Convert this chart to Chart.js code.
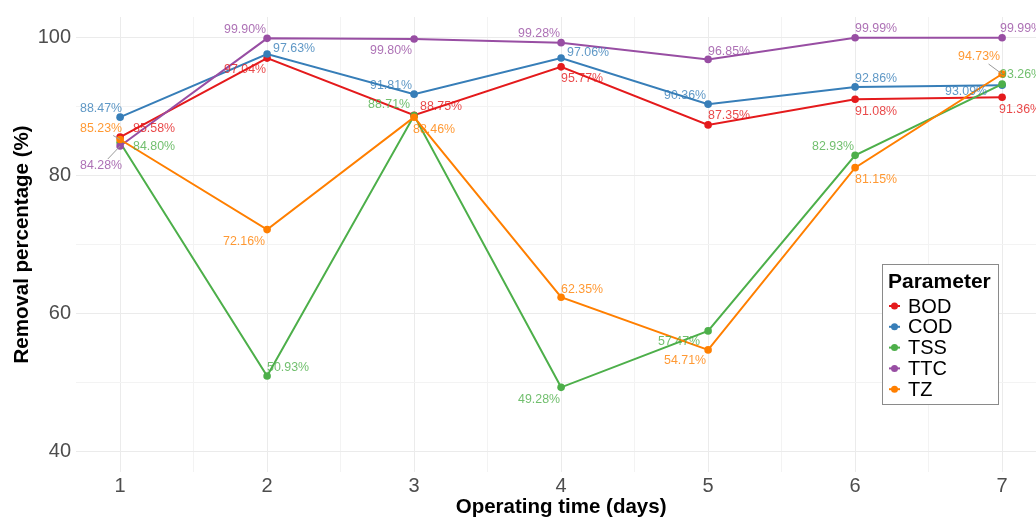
<!DOCTYPE html>
<html>
<head>
<meta charset="utf-8">
<title>Removal percentage</title>
<script src="https://cdn.jsdelivr.net/npm/chart.js@4.4.1/dist/chart.umd.min.js"></script>
<style>
  html, body { margin: 0; padding: 0; background: #fff; overflow: hidden; }
  #wrap { width: 1050px; height: 520px; position: relative; }
</style>
</head>
<body>
<div id="wrap"><canvas id="myChart"></canvas></div>
<script>
// operating time (days)
const days = [1, 2, 3, 4, 5, 6, 7];

// removal percentage (%) per parameter
const bod = [85.58, 97.04, 88.75, 95.77, 87.35, 91.08, 91.36];
const cod = [88.47, 97.63, 91.81, 97.06, 90.36, 92.86, 93.09];
const tss = [84.80, 50.93, 88.71, 49.28, 57.47, 82.93, 93.26];
const ttc = [84.28, 99.90, 99.80, 99.28, 96.85, 99.99, 99.99];
const tz  = [85.23, 72.16, 88.46, 62.35, 54.71, 81.15, 94.73];

const yTicks = [40, 60, 80, 100];

// where the value labels sit, in pixels from their point (dx, dy, draw a leader line?)
const bodLabelPos = [[34, -9], [-22, 11], [27, -9], [21, 12], [21, -9], [21, 12], [18, 12]];
const codLabelPos = [[-19, -9], [27, -5], [-23, -9], [27, -5], [-23, -9], [21, -8], [-36, 6]];
const tssLabelPos = [[34, 4], [21, -8], [-25, -11], [-22, 12], [-29, 11], [-22, -9], [19, -10]];
const ttcLabelPos = [[-19, 20, true], [-22, -9], [-23, 12], [-22, -9], [21, -8], [21, -9], [19, -9]];
const tzLabelPos  = [[-19, -11, true], [-23, 12], [20, 12], [21, -8], [-23, 11], [21, 12], [-23, -17, true]];

const FONT = "'Liberation Sans', Arial, sans-serif";

const params = [
  { name: 'BOD', data: bod, color: '#E41A1C', pos: bodLabelPos },
  { name: 'COD', data: cod, color: '#377EB8', pos: codLabelPos },
  { name: 'TSS', data: tss, color: '#4DAF4A', pos: tssLabelPos },
  { name: 'TTC', data: ttc, color: '#984EA3', pos: ttcLabelPos },
  { name: 'TZ',  data: tz,  color: '#FF7F00', pos: tzLabelPos }
];

function fade(hex, a) {
  const n = parseInt(hex.slice(1), 16);
  return 'rgba(' + (n >> 16) + ',' + ((n >> 8) & 255) + ',' + (n & 255) + ',' + a + ')';
}

// text labels next to each point (like ggrepel)
const valueLabels = {
  id: 'valueLabels',
  afterDatasetsDraw(chart) {
    const ctx = chart.ctx;
    ctx.save();
    ctx.font = '12.4px ' + FONT;
    ctx.textAlign = 'center';
    ctx.textBaseline = 'middle';
    params.forEach((p, i) => {
      const meta = chart.getDatasetMeta(i);
      meta.data.forEach((pt, j) => {
        const [dx, dy, seg] = p.pos[j];
        const text = p.data[j].toFixed(2) + '%';
        const cx = pt.x + dx, cy = pt.y + dy;
        if (seg) {
          const hw = ctx.measureText(text).width / 2 + 1, hh = 7;
          const vx = pt.x - cx, vy = pt.y - cy;
          const t = Math.min(vx ? hw / Math.abs(vx) : 1e9, vy ? hh / Math.abs(vy) : 1e9);
          ctx.strokeStyle = '#9a9a9a';
          ctx.lineWidth = 1;
          ctx.beginPath();
          ctx.moveTo(cx + vx * t, cy + vy * t);
          ctx.lineTo(pt.x, pt.y);
          ctx.stroke();
        }
        ctx.fillStyle = fade(p.color, 0.8);
        ctx.fillText(text, cx, cy);
      });
    });
    ctx.restore();
  }
};

// legend box inside the panel
const legendBox = {
  id: 'legendBox',
  afterDraw(chart) {
    const ctx = chart.ctx;
    const x = 882, y = 264, w = 116, h = 140;
    ctx.save();
    ctx.fillStyle = '#fff';
    ctx.fillRect(x, y, w, h);
    ctx.strokeStyle = '#8a8a8a';
    ctx.lineWidth = 1;
    ctx.strokeRect(x + 0.5, y + 0.5, w, h);
    ctx.fillStyle = '#000';
    ctx.textBaseline = 'middle';
    ctx.textAlign = 'left';
    ctx.font = 'bold 21px ' + FONT;
    ctx.fillText('Parameter', x + 6, y + 18);
    ctx.font = '20px ' + FONT;
    params.forEach((p, i) => {
      const ly = y + 42 + i * 20.8;
      ctx.strokeStyle = p.color;
      ctx.lineWidth = 2;
      ctx.beginPath();
      ctx.moveTo(x + 7, ly);
      ctx.lineTo(x + 18, ly);
      ctx.stroke();
      ctx.fillStyle = p.color;
      ctx.beginPath();
      ctx.arc(x + 12.5, ly, 3.5, 0, Math.PI * 2);
      ctx.fill();
      ctx.fillStyle = '#000';
      ctx.fillText(p.name, x + 26, ly + 1);
    });
    ctx.restore();
  }
};

const datasets = params.map((p, i) => ({
  label: p.name,
  data: days.map((d, j) => ({ x: d, y: p.data[j] })),
  borderColor: p.color,
  backgroundColor: p.color,
  borderWidth: 2,
  pointRadius: 3.8,
  pointHoverRadius: 3.8,
  pointBorderWidth: 0,
  tension: 0,
  order: -i
}));

const xTickValues = days.flatMap((d, i) => i < days.length - 1 ? [d, d + 0.5] : [d]);
const yTickValues = yTicks.flatMap((v, i) => i < yTicks.length - 1 ? [v, v + 10] : [v]);

const myChart = document.getElementById('myChart');

new Chart(myChart, {
  type: 'line',
  data: { datasets: datasets },
  options: {
    responsive: true,
    maintainAspectRatio: false,
    animation: false,
    events: [],
    layout: { padding: { top: 12, right: 3, left: 0, bottom: 0 } },
    plugins: {
      legend: { display: false },
      tooltip: { enabled: false }
    },
    scales: {
      x: {
        type: 'linear',
        min: 0.7,
        max: 7.3,
        afterBuildTicks: s => { s.ticks = xTickValues.map(v => ({ value: v })); },
        afterFit: s => { s.height = 48; },
        ticks: {
          callback: v => Number.isInteger(v) ? v : '',
          color: '#4D4D4D',
          font: { family: FONT, size: 20 },
          padding: 2,
          maxRotation: 0,
          autoSkip: false
        },
        grid: {
          drawTicks: false,
          color: c => Number.isInteger(c.tick.value) ? '#EBEBEB' : '#F3F3F3',
          lineWidth: 1
        },
        border: { display: false },
        title: {
          display: true,
          text: 'Operating time (days)',
          color: '#000',
          font: { family: FONT, size: 20.5, weight: 'bold' },
          padding: 0
        }
      },
      y: {
        min: 37,
        max: 103,
        afterBuildTicks: s => { s.ticks = yTickValues.map(v => ({ value: v })); },
        afterFit: s => { s.width = 76; },
        ticks: {
          callback: v => yTicks.includes(v) ? v : '',
          color: '#4D4D4D',
          font: { family: FONT, size: 20 },
          padding: 5,
          autoSkip: false
        },
        grid: {
          drawTicks: false,
          color: c => yTicks.includes(c.tick.value) ? '#EBEBEB' : '#F3F3F3',
          lineWidth: 1
        },
        border: { display: false },
        title: {
          display: true,
          text: 'Removal percentage (%)',
          color: '#000',
          font: { family: FONT, size: 20.5, weight: 'bold' },
          padding: { top: 10, bottom: 0 }
        }
      }
    }
  },
  plugins: [valueLabels, legendBox]
});
</script>
</body>
</html>
